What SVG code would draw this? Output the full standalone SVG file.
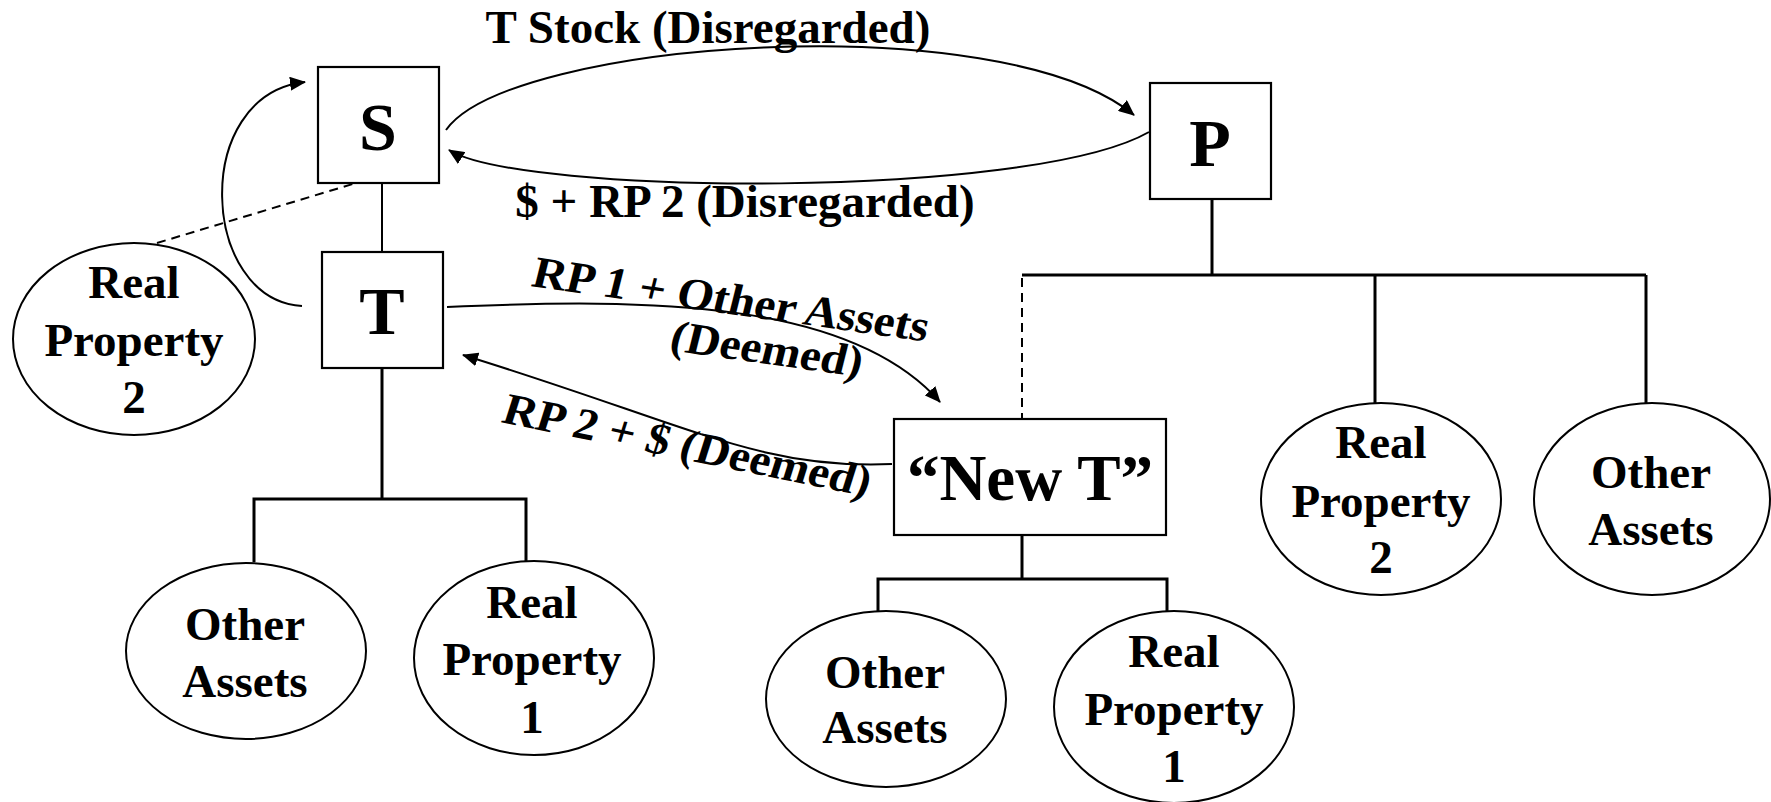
<svg xmlns="http://www.w3.org/2000/svg" width="1771" height="802" viewBox="0 0 1771 802">
<defs>
<marker id="ah" markerUnits="userSpaceOnUse" markerWidth="16" markerHeight="14" refX="15" refY="7" orient="auto">
<path d="M0,0 L16,7 L0,14 Z" fill="#000"/>
</marker>
<style>
text{font-family:"Liberation Serif","Times New Roman",serif;font-weight:bold;fill:#000}
.lbl{font-size:47px}
.big{font-size:68px;text-anchor:middle}
.el{font-size:47px;text-anchor:middle}
.box{fill:#fff;stroke:#000;stroke-width:2.2}
.ell{fill:#fff;stroke:#000;stroke-width:2}
.tree{fill:none;stroke:#000;stroke-width:3}
.thin{fill:none;stroke:#000;stroke-width:2}
.dash{fill:none;stroke:#000;stroke-width:2;stroke-dasharray:9,6}
.arr{fill:none;stroke:#000;stroke-width:2;marker-end:url(#ah)}
</style>
</defs>
<rect width="1771" height="802" fill="#fff"/>
<g id="connectors">
<line class="thin" x1="382" y1="183" x2="382" y2="252"/>
<polyline class="tree" points="382,368 382,499"/>
<polyline class="tree" points="254,562 254,499 526,499 526,562"/>
<line class="dash" x1="157" y1="243" x2="366" y2="180"/>
<polyline class="tree" points="1212,199 1212,275"/>
<polyline class="tree" points="1022,275 1646,275"/>
<line class="tree" x1="1375" y1="275" x2="1375" y2="403"/>
<line class="tree" x1="1646" y1="275" x2="1646" y2="403"/>
<line class="dash" x1="1022" y1="278" x2="1022" y2="419"/>
<polyline class="tree" points="1022,535 1022,579"/>
<polyline class="tree" points="878,611 878,579 1167,579 1167,611"/>
<path class="arr" d="M302,306 C200,300 190,95 305,82"/>
<path class="arr" d="M446,130 C510,40 1000,5 1134,115"/>
<path class="arr" d="M1149,132 C1030,200 520,195 449,150"/>
<path class="arr" d="M447,307 C650,298 850,300 940,402"/>
<path class="arr" d="M892,464 C760,470 690,425 463,355"/>
</g>
<g id="label-tstock"><text class="lbl" x="708" y="43" text-anchor="middle">T Stock (Disregarded)</text></g>
<g id="label-rp2dollar"><text class="lbl" x="745" y="217" text-anchor="middle">$ + RP 2 (Disregarded)</text></g>
<g id="label-rp1"><text class="lbl" transform="translate(530,286) rotate(8) skewX(-6) scale(1,0.95)">RP 1 + Other Assets</text></g>
<g id="label-deemed1"><text class="lbl" transform="translate(668,350) rotate(8) skewX(-6) scale(1,0.95)">(Deemed)</text></g>
<g id="label-rp2"><text class="lbl" transform="translate(500,422) rotate(11.5) skewX(-6) scale(1,0.95)">RP 2 + $ (Deemed)</text></g>
<g id="node-S"><rect class="box" x="318" y="67" width="121" height="116"/><text class="big" x="378" y="150">S</text></g>
<g id="node-T"><rect class="box" x="322" y="252" width="121" height="116"/><text class="big" x="382" y="334">T</text></g>
<g id="node-P"><rect class="box" x="1150" y="83" width="121" height="116"/><text class="big" x="1210" y="166">P</text></g>
<g id="node-NewT"><rect class="box" x="894" y="419" width="272" height="116"/><text class="big" x="1030" y="500" style="font-size:65px">“New T”</text></g>
<g id="node-rp2-left"><ellipse class="ell" cx="134" cy="339" rx="121" ry="96"/><text class="el" x="134" y="298">Real</text><text class="el" x="134" y="356">Property</text><text class="el" x="134" y="413">2</text></g>
<g id="node-oa-left"><ellipse class="ell" cx="246" cy="651" rx="120" ry="88"/><text class="el" x="245" y="640">Other</text><text class="el" x="245" y="697">Assets</text></g>
<g id="node-rp1-left"><ellipse class="ell" cx="534" cy="658" rx="120" ry="97"/><text class="el" x="532" y="618">Real</text><text class="el" x="532" y="675">Property</text><text class="el" x="532" y="733">1</text></g>
<g id="node-oa-mid"><ellipse class="ell" cx="886" cy="699" rx="120" ry="88"/><text class="el" x="885" y="688">Other</text><text class="el" x="885" y="743">Assets</text></g>
<g id="node-rp1-mid"><ellipse class="ell" cx="1174" cy="707" rx="120" ry="96"/><text class="el" x="1174" y="667">Real</text><text class="el" x="1174" y="725">Property</text><text class="el" x="1174" y="782">1</text></g>
<g id="node-rp2-right"><ellipse class="ell" cx="1381" cy="499" rx="120" ry="96"/><text class="el" x="1381" y="458">Real</text><text class="el" x="1381" y="517">Property</text><text class="el" x="1381" y="573">2</text></g>
<g id="node-oa-right"><ellipse class="ell" cx="1652" cy="499" rx="118" ry="96"/><text class="el" x="1651" y="488">Other</text><text class="el" x="1651" y="545">Assets</text></g>
</svg>
